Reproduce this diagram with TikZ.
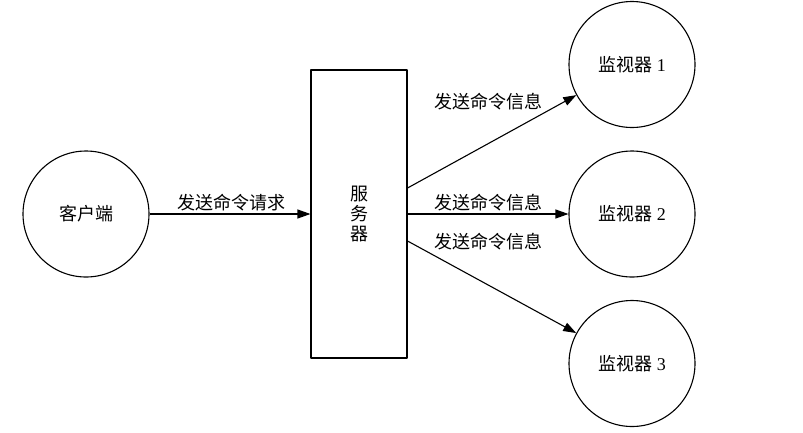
\documentclass[tikz,border=0pt]{standalone}
\usepackage{fontspec}
\setmainfont{Liberation Serif}
\newfontfamily\cjk{Noto Sans CJK SC}
\usetikzlibrary{arrows.meta}
\begin{document}
\begin{tikzpicture}[x=1pt,y=-1pt,>={Triangle[length=13pt,width=9pt]},line join=bevel,line width=1.1pt,
  every node/.style={font=\fontsize{18}{20}\selectfont},
  roundnode/.style={draw,circle,minimum size=126pt,inner sep=0pt},
  boxnode/.style={draw,rectangle,minimum width=96pt,minimum height=288pt,align=center}]
\useasboundingbox (0,0) rectangle (803,432);
%%
 \node (node_client) at (86,214) [roundnode] {\cjk 客户端};
 \node (node_server) at (359,214) [boxnode] {\cjk 服\\\cjk 务\\\cjk 器};
 \node (node_mon1) at (632,64.5) [roundnode] {{\cjk 监视器} 1};
 \node (node_mon2) at (632,214) [roundnode] {{\cjk 监视器} 2};
 \node (node_mon3) at (632,363.5) [roundnode] {{\cjk 监视器} 3};

 \node (label_req) at (231,203) [draw,draw=none] {\cjk 发送命令请求};
 \node (label_msg1) at (488,102) [draw,draw=none] {\cjk 发送命令信息};
 \node (label_msg2) at (488,203) [draw,draw=none] {\cjk 发送命令信息};
 \node (label_msg3) at (488,242) [draw,draw=none] {\cjk 发送命令信息};

  \draw [black,->] (node_client) -- (node_server);
  \draw [black,->] ([yshift=26pt]node_server.east) -- (node_mon1);
  \draw [black,->] (node_server.east) -- (node_mon2);
  \draw [black,->] ([yshift=-27pt]node_server.east) -- (node_mon3);
%
\end{tikzpicture}
\end{document}
